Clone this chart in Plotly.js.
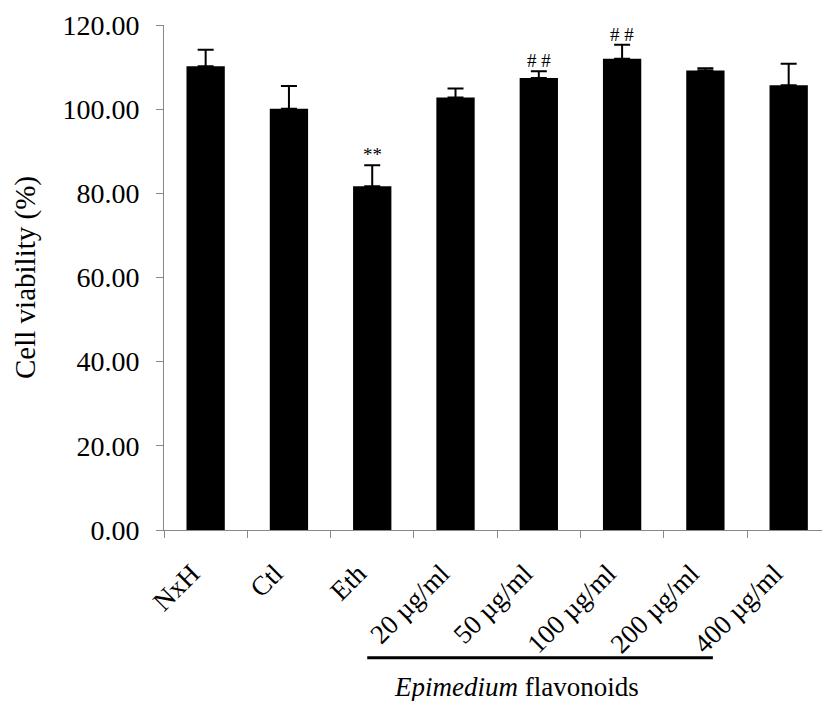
<!DOCTYPE html>
<html>
<head>
<meta charset="utf-8">
<script src="https://cdn.plot.ly/plotly-3.0.1.min.js"></script>
<style>html,body{margin:0;padding:0;background:#fff;}#chart{width:822px;height:701px;}</style>
</head>
<body>
<div id="chart"></div>
<script>
const categories = ["NxH", "Ctl", "Eth", "20 µg/ml", "50 µg/ml", "100 µg/ml", "200 µg/ml", "400 µg/ml"];
const values = [110.2, 100.1, 81.7, 102.8, 107.4, 112.0, 109.2, 105.7];
const errors = [3.9, 5.4, 5.0, 2.1, 1.6, 3.3, 0.5, 5.1];
const marks = ["", "", "**", "", "# #", "# #", "", ""];
const yTicks = [0, 20, 40, 60, 80, 100, 120];
const groupLabel = "<i>Epimedium</i> flavonoids";

const FONT = "Liberation Serif, Times New Roman, serif";

const trace = {
  type: "bar",
  x: categories,
  y: values,
  marker: { color: "#000000", line: { color: "#000000", width: 0 } },
  error_y: {
    type: "data",
    symmetric: false,
    array: errors,
    arrayminus: errors.map(() => 0),
    color: "#000000",
    thickness: 2,
    width: 8,
    visible: true
  },
  hoverinfo: "none"
};

const annotations = [];
categories.forEach((c, i) => {
  if (marks[i]) {
    annotations.push({
      x: c, y: values[i] + errors[i], xref: "x", yref: "y",
      text: marks[i], showarrow: false, yanchor: "bottom", yshift: -2,
      font: { family: FONT, size: 19, color: "#000" }
    });
  }
});
annotations.push({
  x: 3.73, y: -0.311, xref: "x", yref: "paper",
  text: groupLabel, showarrow: false, xanchor: "center", yanchor: "middle",
  font: { family: FONT, size: 27, color: "#000" }
});

const layout = {
  width: 822, height: 701,
  margin: { l: 164, r: 0, t: 25, b: 171 },
  paper_bgcolor: "#fff", plot_bgcolor: "#fff",
  showlegend: false,
  bargap: 0.54,
  font: { family: FONT, color: "#000" },
  xaxis: {
    type: "category",
    range: [-0.5, 7.4],
    tickson: "boundaries",
    ticks: "outside", ticklen: 7, tickcolor: "#888", tickwidth: 1,
    showline: true, linecolor: "#888", linewidth: 1,
    showgrid: false, zeroline: false,
    tickangle: -45,
    ticklabelstandoff: 16,
    ticklabelshift: -14,
    tickfont: { family: FONT, size: 27, color: "#000" },
    automargin: false
  },
  yaxis: {
    range: [0, 120],
    tickvals: yTicks,
    tickformat: ".2f",
    ticks: "outside", ticklen: 7, tickcolor: "#888", tickwidth: 1,
    showline: true, linecolor: "#888", linewidth: 1,
    showgrid: false, zeroline: false,
    ticklabelstandoff: 11,
    tickfont: { family: FONT, size: 28, color: "#000" },
    title: { text: "Cell viability (%)", font: { family: FONT, size: 29, color: "#000" }, standoff: 18 },
    automargin: false
  },
  shapes: [{
    type: "line", xref: "x", yref: "paper",
    x0: 1.94, x1: 6.09, y0: -0.253, y1: -0.253,
    line: { color: "#000", width: 3 }
  }],
  annotations: annotations
};

Plotly.newPlot("chart", [trace], layout, { displayModeBar: false, staticPlot: true });
</script>
</body>
</html>
